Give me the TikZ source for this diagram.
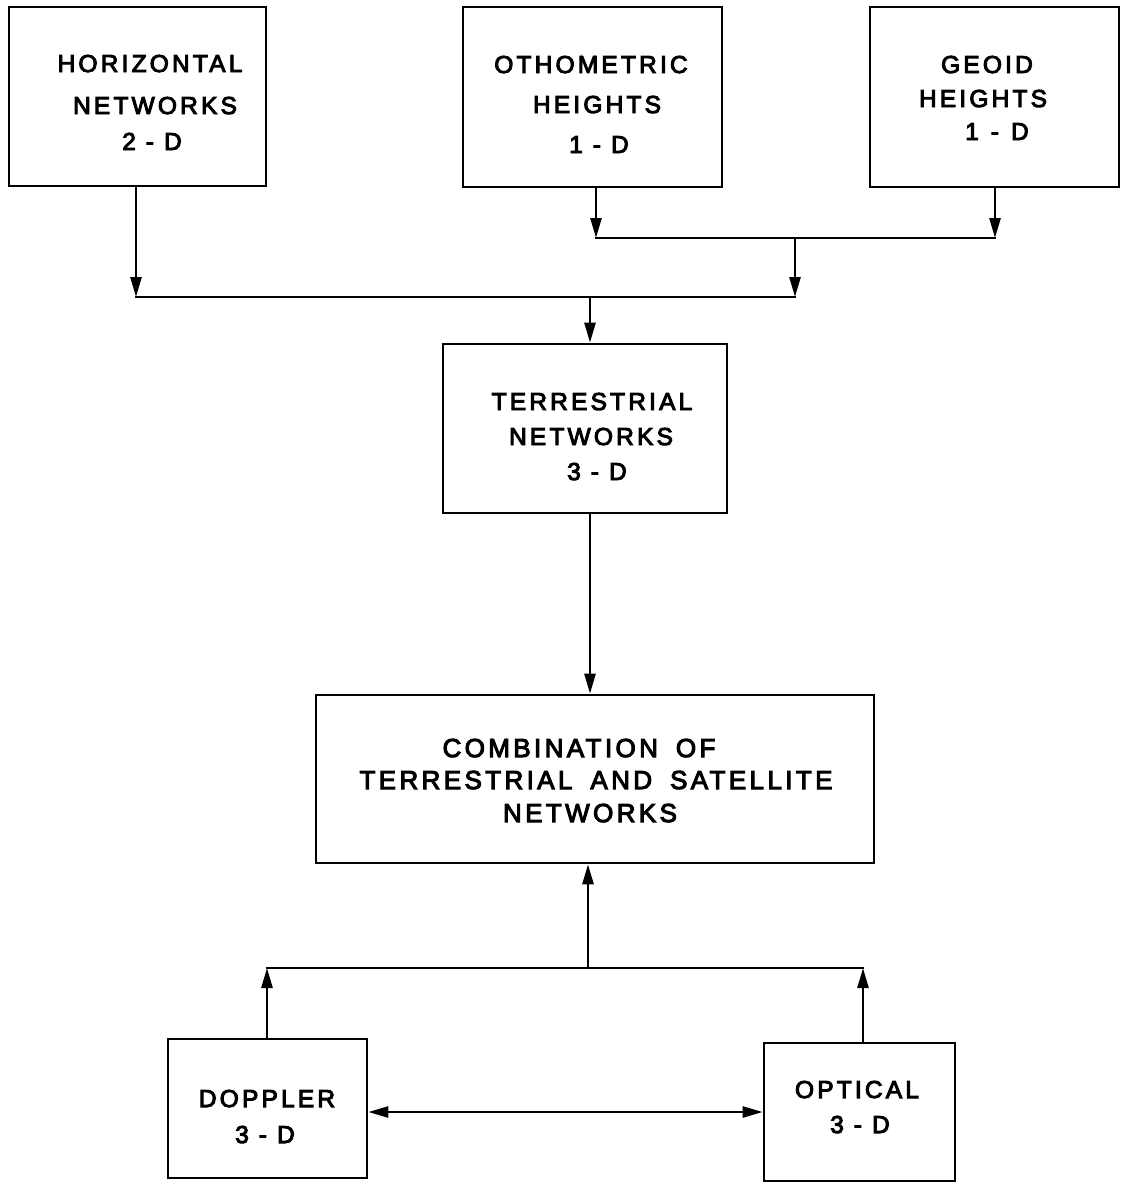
\documentclass[tikz,border=0pt]{standalone}
\usepackage{fontspec}
\newfontfamily\labfont[LetterSpace=13,FakeBold=4]{Liberation Sans}
\newcommand\wsp{\hspace{18pt}}
\usetikzlibrary{arrows.meta}
\tikzset{
  boxst/.style={draw, line width=2.6pt, inner sep=0pt, rectangle},
  lab/.style={anchor=base, inner sep=0pt, font=\labfont\fontsize{24.5}{28}\selectfont},
  biglab/.style={anchor=base, inner sep=0pt, font=\labfont\fontsize{26}{30}\selectfont},
  conn/.style={line width=2.6pt, line cap=rect},
  arr/.style={line width=2.6pt, -{Triangle[length=20pt,width=11pt]}},
  darr/.style={line width=2.6pt, {Triangle[length=20pt,width=11pt]}-{Triangle[length=20pt,width=11pt]}},
}
\begin{document}
\begin{tikzpicture}[x=1pt,y=-1pt]
\useasboundingbox (0,0) rectangle (1121,1183);
% boxes
\node[boxst, minimum width=257pt, minimum height=179pt] (hor) at (137.5,96.5) {};
\node[boxst, minimum width=259pt, minimum height=180pt] (oth) at (592.5,97) {};
\node[boxst, minimum width=249pt, minimum height=180pt] (geo) at (994.5,97) {};
\node[boxst, minimum width=284pt, minimum height=169pt] (ter) at (585,428.5) {};
\node[boxst, minimum width=558pt, minimum height=168pt] (com) at (595,779) {};
\node[boxst, minimum width=199pt, minimum height=139pt] (dop) at (267.5,1108.5) {};
\node[boxst, minimum width=191pt, minimum height=138pt] (opt) at (859.5,1112) {};
% labels
\node[lab] (hor1) at (150,72) {HORIZONTAL};
\node[lab] (hor2) at (155,114) {NETWORKS};
\node[lab] (hor3) at (152,150) {2 - D};
\node[lab] (oth1) at (591,73) {OTHOMETRIC};
\node[lab] (oth2) at (597,113) {HEIGHTS};
\node[lab] (oth3) at (599,153) {1 - D};
\node[lab] (geo1) at (987,73) {GEOID};
\node[lab] (geo2) at (983,107) {HEIGHTS};
\node[lab] (geo3) at (997,140) {1\hspace{12pt}-\hspace{12pt}D};
\node[lab] (ter1) at (592,410) {TERRESTRIAL};
\node[lab] (ter2) at (591,445) {NETWORKS};
\node[lab] (ter3) at (597,480) {3 - D};
\node[biglab] (com1) at (579,757) {COMBINATION\wsp OF};
\node[biglab] (com2) at (596,789) {TERRESTRIAL\wsp AND\wsp SATELLITE};
\node[biglab] (com3) at (590,822) {NETWORKS};
\node[lab] (dop1) at (267,1107) {DOPPLER};
\node[lab] (dop2) at (265,1143) {3 - D};
\node[lab] (opt1) at (857,1098) {OPTICAL};
\node[lab] (opt2) at (860,1133) {3 - D};
% junction points
\coordinate (a1) at (136,297);
\coordinate (a2) at (795,297);
\coordinate (am) at (590,297);
\coordinate (b1) at (596,238);
\coordinate (b2) at (995,238);
\coordinate (bm) at (795,238);
\coordinate (c0) at (588,968);
\coordinate (c1) at (267,968);
\coordinate (c2) at (863,968);
\coordinate (d0) at (560,1112);
% connectors
\draw[conn] (b1) -- (b2);
\draw[arr] (b1 |- oth.south) -- (b1);
\draw[arr] (b2 |- geo.south) -- (b2);
\draw[arr] (bm) -- (a2);
\draw[conn] (a1) -- (a2);
\draw[arr] (a1 |- hor.south) -- (a1);
\draw[arr] (am) -- (am |- ter.north);
\draw[arr] (am |- ter.south) -- (am |- com.north);
\draw[arr] (c0) -- (c0 |- com.south);
\draw[conn] (c1) -- (c2);
\draw[arr] (c1 |- dop.north) -- (c1);
\draw[arr] (c2 |- opt.north) -- (c2);
\draw[darr] (dop.east |- d0) -- (opt.west |- d0);
\end{tikzpicture}
\end{document}
